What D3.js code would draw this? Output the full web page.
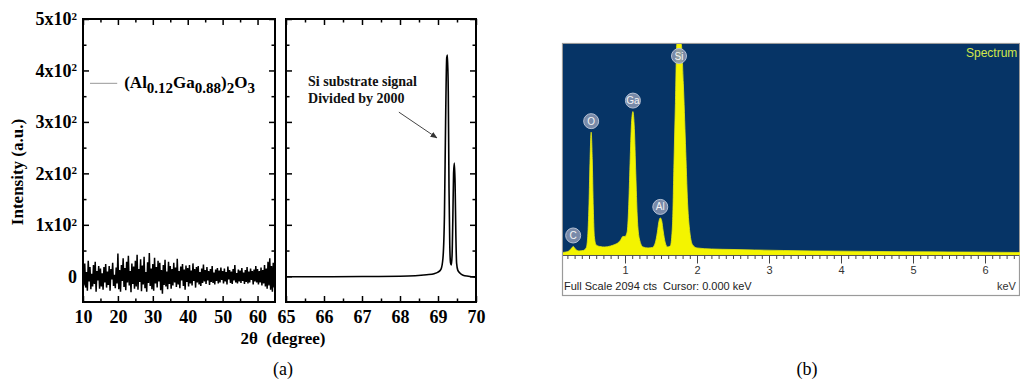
<!DOCTYPE html>
<html><head><meta charset="utf-8">
<script src="https://cdn.jsdelivr.net/npm/d3@7"></script>
<style>body{margin:0;background:#fff}svg{display:block}</style>
</head><body>
<svg id="c" width="1020" height="380"></svg>
<script>
// ---------- DATA ----------
// (a) left: (Al0.12Ga0.88)2O3 film scan, 10-65 deg, step 0.25 deg
const noiseStart = 10, noiseStep = 0.25;
const noiseValues = [
 12,-18,25,-22,8,-28,30,-10,18,-25,5,-20,22,-15,28,-30,10,-8,20,-24,
 15,-20,6,-26,18,-12,24,-22,9,-17,20,-28,14,-6,26,-19,3,-23,17,-14,
 44,-25,12,-30,22,-9,35,-21,16,-27,28,-12,40,-18,10,-31,25,-15,19,-24,
 30,-20,42,-26,14,-11,33,-29,21,-16,38,-23,8,-30,27,-13,45,-19,15,-25,
 24,-28,36,-14,18,-22,30,-10,26,-27,12,-34,22,-17,32,-20,9,-25,28,-15,
 20,-24,14,-18,26,-12,17,-21,34,-16,10,-23,19,-8,24,-19,13,-26,21,-11,
 16,-20,22,-14,11,-18,25,-9,14,-22,18,-12,20,-16,8,-19,15,-13,23,-10,
 12,-15,18,-8,10,-17,14,-11,20,-13,7,-16,13,-9,16,-14,11,-12,17,-7,
 10,-14,15,-10,8,-16,19,-6,12,-13,9,-15,14,-8,22,-12,6,-14,13,-10,
 11,-13,16,-9,7,-15,12,-11,18,-14,9,-12,15,-7,10,-16,13,-10,20,-12,
 14,-16,10,-12,17,-18,12,-14,22,-20,15,-24,28,-18,35,-26,20,-30,26,-22,18
];
// (a) right: Si substrate signal divided by 2000
const siTheta = [65.0,66.0,67.0,68.0,68.4,68.7,68.9,69.0,69.08,69.13,69.17,69.20,69.23,69.25,69.27,69.29,69.31,69.33,69.35,69.37,69.39,69.41,69.43,69.45,69.47,69.49,69.52,69.58,69.66,69.8,70.0];
const siIntensity = [-1,-1,-0.5,0,1,3,5,8,14,35,120,300,425,430,360,170,60,26,22,40,110,200,220,180,80,25,12,6,2,0,-2];
const yMajorTicks = [0,100,200,300,400,500];
const yMinorTicks = [50,150,250,350,450];
const leftMajorX = [10,20,30,40,50,60];
const leftMinorX = [15,25,35,45,55];
const rightMajorX = [65,66,67,68,69,70];
const rightMinorX = [65.5,66.5,67.5,68.5,69.5];
// (b) EDS spectrum
const edsKeV = [0.12,0.18,0.22,0.26,0.28,0.31,0.36,0.42,0.46,0.48,0.50,0.515,0.53,0.545,0.56,0.575,0.60,0.65,0.72,0.80,0.86,0.90,0.94,0.97,1.00,1.03,1.05,1.07,1.09,1.11,1.13,1.15,1.17,1.20,1.25,1.32,1.38,1.42,1.45,1.47,1.49,1.51,1.53,1.56,1.59,1.63,1.66,1.68,1.70,1.72,1.75,1.78,1.81,1.84,1.87,1.90,1.94,2.0,2.2,2.5,2.8,3.2,3.6,4.0,4.5,5.0,5.5,6.0,6.5];
const edsCounts = [15,20,30,60,75,50,30,35,60,150,500,950,1215,950,450,170,90,75,70,80,95,110,140,175,175,220,450,900,1300,1420,1250,800,380,150,70,60,65,110,220,320,360,330,230,110,70,80,300,900,1500,2600,2900,2600,1700,1100,500,220,90,60,50,45,40,35,30,28,25,22,20,18,15];
const edsMajor = [1,2,3,4,5,6];
const edsLabels = ["C","O","Ga","Al","Si"];
const edsLabelKeV = [0.28,0.53,1.11,1.49,1.75];
const edsLabelPeak = [75,1215,1420,360,2900];
const edsFullScale = 2094;

// ---------- DRAW ----------
const svg = d3.select("#c");
const serif = "'Liberation Serif','Times New Roman',serif";
const sans = "'Liberation Sans',Arial,sans-serif";
const fmtInt = d3.format("d");

const pTop = 19, pBot = 302;
const y = d3.scaleLinear().domain([-50,500]).range([pBot, pTop]);
const xL = d3.scaleLinear().domain([10,65]).range([83,275]);
const xR = d3.scaleLinear().domain([65,70]).range([286,476]);

function ticks(g, axisFn, scale, vals, size) {
  const a = axisFn(scale).tickValues(vals).tickSize(-size).tickSizeOuter(0).tickFormat(() => "");
  g.call(a);
  g.select(".domain").remove();
  g.selectAll(".tick line").attr("stroke","#000").attr("stroke-width",1.5);
}

function panel(xs, majorX, minorX, labelY) {
  const [x0,x1] = xs.range();
  const gb = svg.append("g").attr("transform",`translate(0,${pBot})`);
  const ab = d3.axisBottom(xs).tickValues(majorX).tickSize(-6).tickPadding(8).tickSizeOuter(0).tickFormat(fmtInt);
  gb.call(ab); gb.select(".domain").remove();
  gb.selectAll(".tick line").attr("stroke","#000").attr("stroke-width",1.5);
  gb.selectAll(".tick text").attr("fill","#000").attr("font-family",serif).attr("font-size","18px").attr("font-weight","bold");
  ticks(svg.append("g").attr("transform",`translate(0,${pBot})`), d3.axisBottom, xs, minorX, 3.5);
  ticks(svg.append("g").attr("transform",`translate(0,${pTop})`), d3.axisTop, xs, majorX, 6);
  ticks(svg.append("g").attr("transform",`translate(0,${pTop})`), d3.axisTop, xs, minorX, 3.5);
  const gl = svg.append("g").attr("transform",`translate(${x0},0)`);
  if (labelY) {
    const al = d3.axisLeft(y).tickValues(yMajorTicks).tickSize(-6).tickPadding(6).tickSizeOuter(0);
    gl.call(al); gl.select(".domain").remove();
    gl.selectAll(".tick line").attr("stroke","#000").attr("stroke-width",1.5);
    gl.selectAll(".tick text").attr("fill","#000").attr("font-family",serif).attr("font-size","18px").attr("font-weight","bold")
      .each(function(d){
        const t = d3.select(this); t.text(null);
        if (d === 0) { t.text("0"); return; }
        t.append("tspan").text((d/100) + "x10");
        t.append("tspan").attr("dy","-0.5em").attr("font-size","11px").text("2");
      });
  } else {
    ticks(gl, d3.axisLeft, y, yMajorTicks, 6);
  }
  ticks(svg.append("g").attr("transform",`translate(${x0},0)`), d3.axisLeft, y, yMinorTicks, 3.5);
  ticks(svg.append("g").attr("transform",`translate(${x1},0)`), d3.axisRight, y, yMajorTicks, 6);
  ticks(svg.append("g").attr("transform",`translate(${x1},0)`), d3.axisRight, y, yMinorTicks, 3.5);
  svg.append("rect").attr("x",x0).attr("y",pTop).attr("width",x1-x0).attr("height",pBot-pTop)
    .attr("fill","none").attr("stroke","#000").attr("stroke-width",2);
}

svg.append("clipPath").attr("id","clipL").append("rect").attr("x",83).attr("y",pTop).attr("width",192).attr("height",pBot-pTop);
svg.append("clipPath").attr("id","clipR").append("rect").attr("x",286).attr("y",pTop).attr("width",190).attr("height",pBot-pTop);

const noisePts = noiseValues.map((v,i) => [noiseStart + i*noiseStep, v]);
svg.append("path").datum(noisePts).attr("clip-path","url(#clipL)")
  .attr("d", d3.line().x(d=>xL(d[0])).y(d=>y(d[1])))
  .attr("fill","none").attr("stroke","#000").attr("stroke-width",1.5).attr("stroke-linejoin","bevel");

svg.append("path").datum(siTheta.map((t,i)=>[t,siIntensity[i]])).attr("clip-path","url(#clipR)")
  .attr("d", d3.line().x(d=>xR(d[0])).y(d=>y(d[1])).curve(d3.curveMonotoneX))
  .attr("fill","none").attr("stroke","#000").attr("stroke-width",1.6);

panel(xL, leftMajorX, leftMinorX, true);
panel(xR, rightMajorX, rightMinorX, false);

svg.append("line").attr("x1",xL(12)).attr("x2",xL(19.8)).attr("y1",y(375)).attr("y2",y(375))
  .attr("stroke","#999").attr("stroke-width",1);
const lt = svg.append("text").attr("x",xL(21.8)).attr("y",y(366)).attr("font-family",serif)
  .attr("font-weight","bold").attr("font-size","17px").attr("fill","#000");
[["(Al",0,17],["0.12",5,15],["Ga",-5,17],["0.88",5,15],[")",-5,17],["2",5,15],["O",-5,17],["3",5,15]]
  .forEach(([s,dy,fs]) => lt.append("tspan").attr("dy",dy).attr("font-size",fs+"px").text(s));

svg.append("defs").append("marker").attr("id","arr").attr("viewBox","0 0 10 10").attr("refX",9).attr("refY",5)
  .attr("markerWidth",7).attr("markerHeight",7).attr("orient","auto")
  .append("path").attr("d","M0,1 L10,5 L0,9 z").attr("fill","#333");
const at = svg.append("text").attr("font-family",serif).attr("font-weight","bold").attr("font-size","14px").attr("fill","#111");
at.append("tspan").attr("x",xR(65.58)).attr("y",y(370)).text("Si substrate signal");
at.append("tspan").attr("x",xR(65.58)).attr("y",y(336)).text("Divided by 2000");
svg.append("line").attr("x1",xR(67.97)).attr("y1",y(319)).attr("x2",xR(68.97)).attr("y2",y(269))
  .attr("stroke","#444").attr("stroke-width",1).attr("marker-end","url(#arr)");

svg.append("text").attr("transform","translate(23,172) rotate(-90)").attr("text-anchor","middle")
  .attr("font-family",serif).attr("font-weight","bold").attr("font-size","17px").text("Intensity (a.u.)");
svg.append("text").attr("x",283).attr("y",344).attr("text-anchor","middle")
  .attr("font-family",serif).attr("font-weight","bold").attr("font-size","17px").text("2θ\u00a0 (degree)");
svg.append("text").attr("x",283).attr("y",375).attr("text-anchor","middle")
  .attr("font-family",serif).attr("font-size","18px").text("(a)");
svg.append("text").attr("x",807).attr("y",375).attr("text-anchor","middle")
  .attr("font-family",serif).attr("font-size","18px").text("(b)");

// ---------- EDS ----------
const eL = 562, eR = 1019, eT = 44, eB = 254;
const xE = d3.scaleLinear().domain([0,6.5]).range([553,1021]);
const yE = d3.scaleLinear().domain([0,edsFullScale]).range([eB,eT]).clamp(true);

svg.append("rect").attr("x",eL+0.5).attr("y",eT-0.5).attr("width",eR-eL).attr("height",296-eT)
  .attr("fill","#fff").attr("stroke","#9a9a9a").attr("stroke-width",1.2);
svg.append("rect").attr("x",eL+1).attr("y",eT).attr("width",eR-eL-1).attr("height",eB-eT+1).attr("fill","#063466");
svg.append("clipPath").attr("id","clipE").append("rect").attr("x",eL+1).attr("y",eT).attr("width",eR-eL).attr("height",eB-eT+1);
svg.append("path").datum(edsKeV.map((k,i)=>[k,edsCounts[i]])).attr("clip-path","url(#clipE)")
  .attr("d", d3.area().x(d=>xE(d[0])).y0(eB+1).y1(d=>yE(d[1])).curve(d3.curveMonotoneX))
  .attr("fill","#f4f400").attr("stroke","#e8ea10").attr("stroke-width",0.8);

const lg = svg.append("g");
edsLabels.forEach((s,i) => {
  const cx = xE(edsLabelKeV[i]);
  const cy = Math.max(yE(edsLabelPeak[i]) - 11, eT + 12);
  lg.append("circle").attr("cx",cx).attr("cy",cy).attr("r",7.5).attr("fill","#8594b0").attr("fill-opacity",0.9)
    .attr("stroke","#b4c0d4").attr("stroke-width",1);
  lg.append("text").attr("x",cx).attr("y",cy+3.5).attr("text-anchor","middle").attr("font-family",sans)
    .attr("font-size","10px").attr("fill","#f4f4f4").text(s);
});

svg.append("line").attr("x1",eL+1).attr("x2",eR).attr("y1",eB+1.5).attr("y2",eB+1.5).attr("stroke","#555").attr("stroke-width",1);
const minorE = d3.range(2, 65).map(v => v/10).filter(v => !Number.isInteger(v) && xE(v) > eL && xE(v) < eR);
const gEm = svg.append("g").attr("transform",`translate(0,${eB+1.5})`);
gEm.call(d3.axisBottom(xE).tickValues(minorE).tickSize(3.5).tickFormat(()=>""));
gEm.select(".domain").remove();
gEm.selectAll(".tick line").attr("stroke","#444");
const gE = svg.append("g").attr("transform",`translate(0,${eB+1.5})`);
gE.call(d3.axisBottom(xE).tickValues(edsMajor).tickSize(8).tickPadding(3).tickFormat(fmtInt));
gE.select(".domain").remove();
gE.selectAll(".tick line").attr("stroke","#444");
gE.selectAll(".tick text").attr("fill","#333").attr("font-family",sans).attr("font-size","11px");

svg.append("text").attr("x",eL+2).attr("y",290).attr("font-family",sans).attr("font-size","11px").attr("fill","#222")
  .text("Full Scale 2094 cts\u00a0 Cursor: 0.000 keV");
svg.append("text").attr("x",997).attr("y",290).attr("font-family",sans).attr("font-size","11px").attr("fill","#333").text("keV");
svg.append("text").attr("x",966).attr("y",57).attr("font-family",sans).attr("font-size","12px").attr("fill","#d2e64a").text("Spectrum");
</script>
</body></html>
